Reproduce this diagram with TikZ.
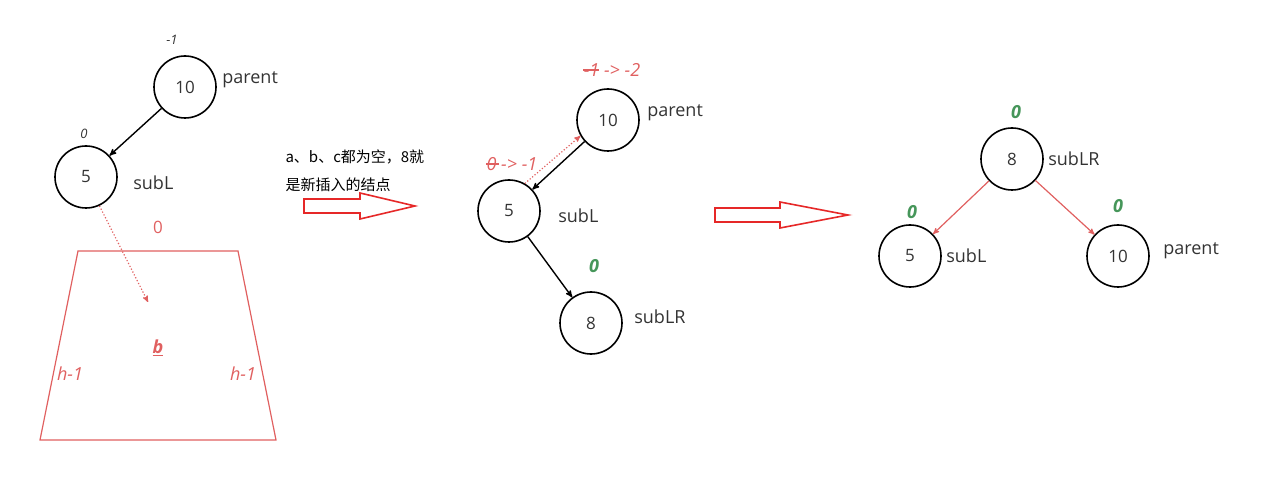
\documentclass[tikz,border=0pt]{standalone}
\usepackage{fontspec}
\setmainfont{Open Sans}
\newfontfamily\cjk{Noto Sans CJK SC}
\usetikzlibrary{arrows}
\usetikzlibrary{calc}
\usetikzlibrary{positioning}
\definecolor{softred}{RGB}{224,96,96}
\definecolor{softgreen}{RGB}{70,150,90}
\definecolor{hollowred}{RGB}{230,40,40}
\begin{document}
\begin{tikzpicture}[x=1pt,y=-1pt,
    tnode/.style={draw,line width=1.6pt,circle,minimum size=62pt,inner sep=0pt,font=\fontsize{17}{17}\selectfont,text=black!80},
    tname/.style={font=\fontsize{18}{18}\selectfont,text=black!80},
    bf/.style={font=\fontsize{13}{13}\selectfont\itshape,text=black!80},
    redbf/.style={font=\fontsize{18}{18}\selectfont\itshape,text=softred},
    greenbf/.style={font=\fontsize{18}{18}\selectfont\bfseries\itshape,text=softgreen},
    link/.style={line width=1.4pt,->,>=stealth'},
    redlink/.style={line width=1.2pt,->,>=stealth',softred},
    hollow/.style={draw=hollowred,line width=1.6pt,fill=white}]
  \useasboundingbox (0,0) rectangle (1270,481);

  % left: before rotation
  \node [tnode] (Lp) at (185,87) {10};
  \node [tnode] (Ls) at (86,177) {5};
  \node [tname,right=2pt of Lp,yshift=7pt] (Lpname) {parent};
  \node [tname,right=12pt of Ls,yshift=-6pt] (Lsname) {subL};
  \node [bf] (Lpbf) at (172,40) {-1};
  \node [bf] (Lsbf) at (84,134) {0};
  \draw [link] (Lp) -- (Ls);
  \draw [softred,line width=1.2pt] (78,251) -- (238,251) -- (276,440) -- (40,440) -- cycle;
  \node [font=\fontsize{17}{17}\selectfont,text=softred] (Bh) at (158,227) {0};
  \node [redbf,font=\fontsize{18}{18}\selectfont\bfseries\itshape] (B) at (158,348) {\underline{b}};
  \node [redbf] (BhL) at (70,374) {h-1};
  \node [redbf] (BhR) at (243,374) {h-1};
  \coordinate (Btop) at (148,302);
  \draw [redlink,dotted] (Ls.-65) -- (Btop);

  \node [anchor=west,font=\cjk\fontsize{15}{15}\selectfont] (Note1) at (282,157) {a、b、c都为空，8就};
  \node [anchor=west,font=\cjk\fontsize{15}{15}\selectfont] (Note2) at (282,185) {是新插入的结点};

  % hollow arrows
  \draw [hollow] (304,199) -- (360,199) -- (360,193) -- (415,206) -- (360,219) -- (360,213) -- (304,213) -- cycle;
  \draw [hollow] (715,208) -- (780,208) -- (780,202) -- (848,215) -- (780,228) -- (780,222) -- (715,222) -- cycle;

  % middle: after insertion
  \node [tnode] (Mp) at (608,120) {10};
  \node [tnode] (Ms) at (509,211) {5};
  \node [tnode] (Mn) at (591,323) {8};
  \node [tname,right=4pt of Mp,yshift=7pt] (Mpname) {parent};
  \node [tname,right=14pt of Ms,yshift=-5pt] (Msname) {subL};
  \node [tname,right=8pt of Mn,yshift=6pt] (Mnname) {subLR};
  \node [redbf] (Mpbf) at (612,70) {-1 -> -2};
  \draw [softred,line width=1.2pt] ($(Mpbf.west)+(3,0)$) -- ++(16,0);
  \node [redbf] (Msbf) at (512,164) {0 -> -1};
  \draw [softred,line width=1.2pt] ($(Msbf.west)+(3,0)$) -- ++(13,0);
  \node [greenbf] (Mnbf) at (594,266) {0};
  \draw [link] (Mp) -- (Ms);
  \draw [link] (Ms) -- (Mn);
  \draw [redlink,dotted] (Ms.60) -- (Mp.210);

  % right: after double rotation
  \node [tnode] (Rn) at (1012,159) {8};
  \node [tnode] (Rs) at (910,256) {5};
  \node [tnode] (Rp) at (1118,256) {10};
  \node [tname,right=1pt of Rn] (Rnname) {subLR};
  \node [tname,right=1pt of Rs] (Rsname) {subL};
  \node [tname,right=10pt of Rp,yshift=5pt] (Rpname) {parent};
  \node [greenbf] (Rnbf) at (1016,112) {0};
  \node [greenbf] (Rsbf) at (912,212) {0};
  \node [greenbf] (Rpbf) at (1118,206) {0};
  \draw [redlink] (Rn) -- (Rs);
  \draw [redlink] (Rn) -- (Rp);
\end{tikzpicture}
\end{document}
